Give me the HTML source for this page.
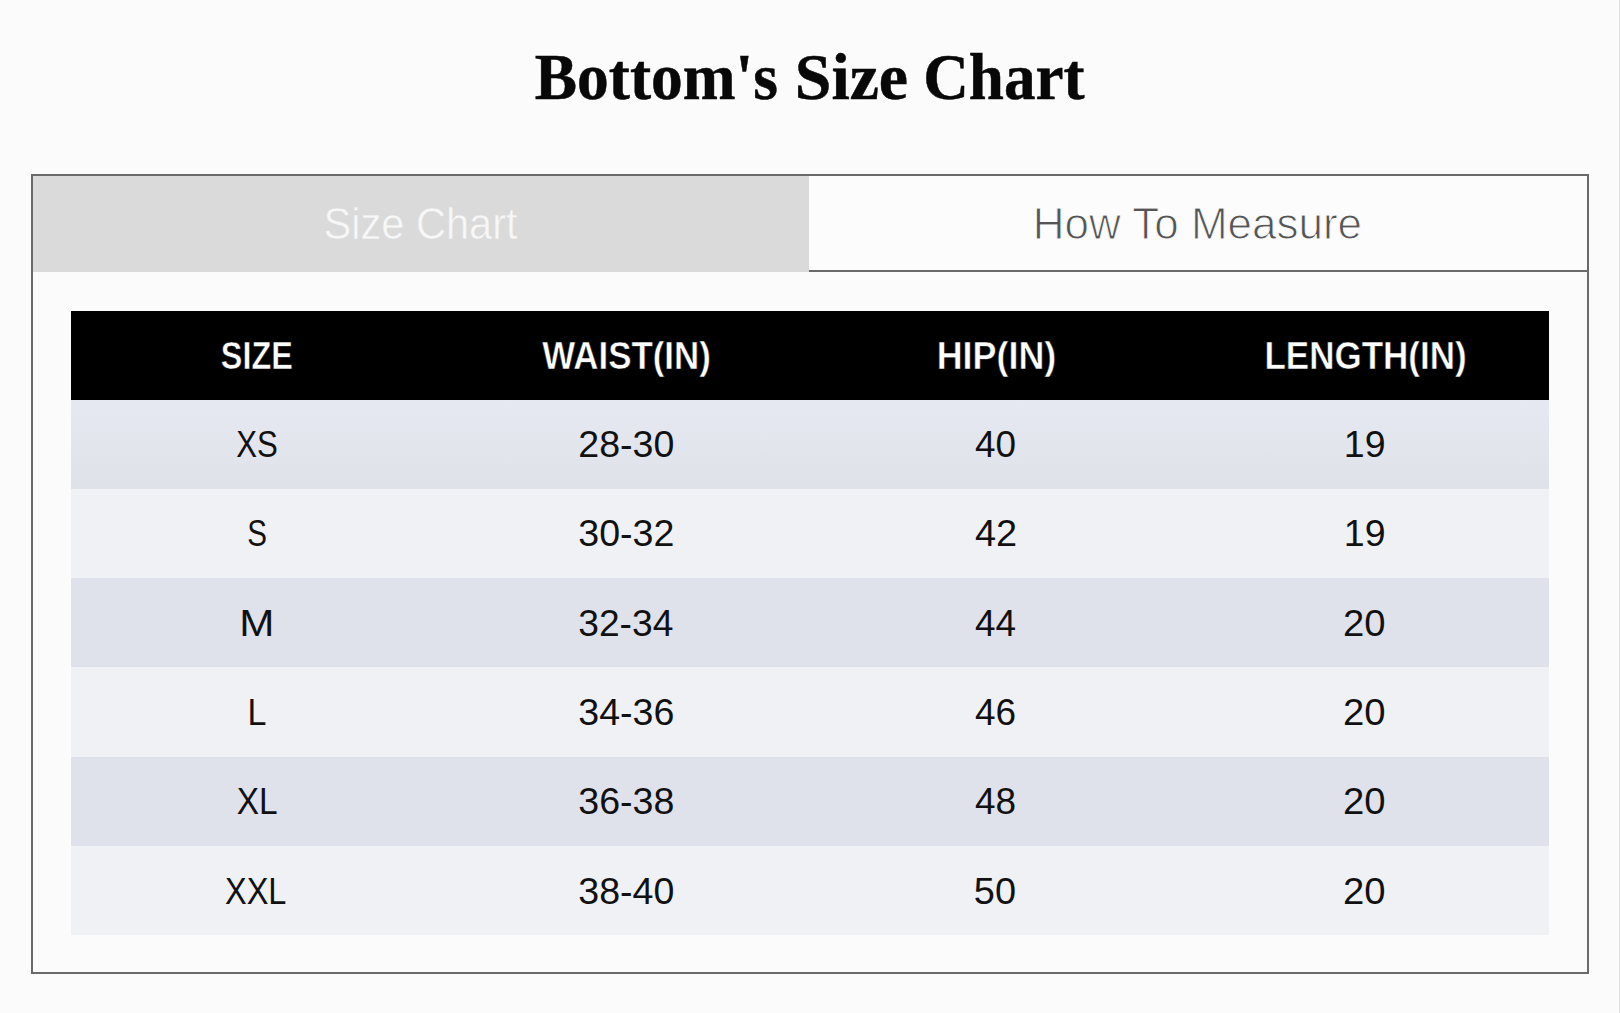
<!DOCTYPE html>
<html lang="en">
<head>
<meta charset="utf-8">
<title>Bottom's Size Chart</title>
<style>
  html, body { margin: 0; padding: 0; }
  body {
    width: 1620px; height: 1013px; overflow: hidden; position: relative;
    background: #fbfbfb;
    font-family: "Liberation Sans", sans-serif;
  }
  h1 {
    position: absolute; left: 0; top: 0; width: 1620px; height: 150px; margin: 0;
    font-family: "Liberation Serif", serif; font-weight: bold; font-size: 66px;
    line-height: 1; color: #080808; white-space: nowrap; -webkit-text-stroke: 0.5px #080808;
  }
  h1 span { position: absolute; top: 44px; display: block; }
  #t1 { left: 536px; } #t2 { left: 797px; } #t3 { left: 926px; }
  .panel {
    position: absolute; left: 31px; top: 174px; width: 1554px; height: 796px;
    border: 2px solid #6a6a6a; background: #fbfbfb;
  }
  .tabs { position: absolute; left: 0; top: 0; width: 1554px; height: 96px; }
  .tab {
    position: absolute; top: 0; height: 96px; line-height: 96px; text-align: center;
    font-size: 44.5px; white-space: nowrap;
  }
  .tab.active { left: 0; width: 776px; background: #dadada; color: #f7f7f7; -webkit-text-stroke: 0.5px #dadada; font-size: 43.5px; }
  .tab.other { left: 776px; width: 778px; height: 94px; border-bottom: 2px solid #6a6a6a; color: #555; background: #fcfcfc; -webkit-text-stroke: 1px #fcfcfc; }
  .tab span { display: inline-block; }
  table {
    position: absolute; left: 38px; top: 135px; width: 1478px;
    border-collapse: collapse; table-layout: fixed;
  }
  th, td { padding: 0; text-align: center; font-size: 36.3px; white-space: nowrap; }
  th { height: 89px; background: #000; color: #fff; font-weight: bold; font-size: 38.5px; -webkit-text-stroke: 0.5px #000; }
  td { height: 89px; color: #111; font-weight: normal; }
  tr.r4 td { height: 90px; }
  tbody tr:nth-child(odd) td { background: #e0e2eb; }
  tbody tr.r1 td { background: linear-gradient(#e7e9f2, #dfe2e9); }
  tbody tr:nth-child(even) td { background: #f0f1f5; }
  th span, td span { display: inline-block; position: relative; }
  tr.r3 span, tr.r4 span, tr.r6 span { top: 1px; }
  .edge { position: absolute; left: 1619px; top: 0; width: 1px; height: 1013px; background: #e3e3e3; }
</style>
</head>
<body>
<div class="edge"></div>
<h1><span id="t1" style="transform:translateX(-6.15px) scaleX(0.9606)">Bottom's</span><span id="t2" style="transform:translateX(-2.40px) scaleX(0.9963)">Size</span><span id="t3" style="transform:translateX(-6.38px) scaleX(0.9572)">Chart</span></h1>
<div class="panel">
  <div class="tabs">
    <div class="tab active"><span id="tabA" style="transform:translateX(-0.01px) scaleX(0.9555)">Size Chart</span></div>
    <div class="tab other"><span id="tabB" style="transform:translateX(-0.09px) scaleX(0.9883)">How To Measure</span></div>
  </div>
  <table>
    <thead>
      <tr><th><span id="h0" style="transform:translateX(1.06px) scaleX(0.8410)">SIZE</span></th><th><span id="h1" style="transform:translateX(1.53px) scaleX(0.9060)">WAIST(IN)</span></th><th><span id="h2" style="transform:translateX(1.32px) scaleX(0.9323)">HIP(IN)</span></th><th><span id="h3" style="transform:translateX(1.33px) scaleX(0.9087)">LENGTH(IN)</span></th></tr>
    </thead>
    <tbody>
      <tr class="r1"><td><span id="c00" style="transform:translateX(0.85px) scaleX(0.8587)">XS</span></td><td><span id="c01" style="transform:translateX(0.91px) scaleX(1.0356)">28-30</span></td><td><span id="c02" style="transform:translateX(0.25px) scaleX(1.0179)">40</span></td><td><span id="c03" style="transform:translateX(0.48px) scaleX(1.0333)">19</span></td></tr>
      <tr class="r2"><td><span id="c10" style="transform:translateX(1.10px) scaleX(0.8143)">S</span></td><td><span id="c11" style="transform:translateX(0.91px) scaleX(1.0356)">30-32</span></td><td><span id="c12" style="transform:translateX(0.78px) scaleX(1.0447)">42</span></td><td><span id="c13" style="transform:translateX(0.48px) scaleX(1.0333)">19</span></td></tr>
      <tr class="r3"><td><span id="c20" style="transform:translateX(0.61px) scaleX(1.1625)">M</span></td><td><span id="c21" style="transform:translateX(0.39px) scaleX(1.0242)">32-34</span></td><td><span id="c22" style="transform:translateX(0.25px) scaleX(1.0179)">44</span></td><td><span id="c23" style="transform:translateX(0.09px) scaleX(1.0541)">20</span></td></tr>
      <tr class="r4"><td><span id="c30" style="transform:translateX(0.78px) scaleX(0.9375)">L</span></td><td><span id="c31" style="transform:translateX(0.91px) scaleX(1.0356)">34-36</span></td><td><span id="c32" style="transform:translateX(0.25px) scaleX(1.0179)">46</span></td><td><span id="c33" style="transform:translateX(0.09px) scaleX(1.0541)">20</span></td></tr>
      <tr class="r5"><td><span id="c40" style="transform:translateX(0.98px) scaleX(0.9209)">XL</span></td><td><span id="c41" style="transform:translateX(0.91px) scaleX(1.0356)">36-38</span></td><td><span id="c42" style="transform:translateX(0.25px) scaleX(1.0179)">48</span></td><td><span id="c43" style="transform:translateX(0.09px) scaleX(1.0541)">20</span></td></tr>
      <tr class="r6"><td><span id="c50" style="transform:translateX(0.37px) scaleX(0.8955)">XXL</span></td><td><span id="c51" style="transform:translateX(0.91px) scaleX(1.0356)">38-40</span></td><td><span id="c52" style="transform:translateX(-0.26px) scaleX(1.0447)">50</span></td><td><span id="c53" style="transform:translateX(0.09px) scaleX(1.0541)">20</span></td></tr>
    </tbody>
  </table>
</div>
</body>
</html>
